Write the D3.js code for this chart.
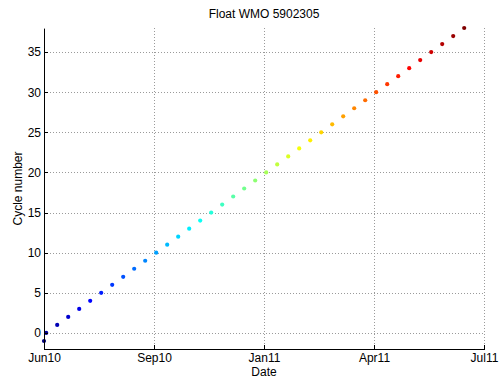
<!DOCTYPE html>
<meta charset="utf-8">
<style>
	body { margin: 0; background: #fff; }
	svg { display: block; font-family: "Liberation Sans", Arial, sans-serif; }
	.grid line { stroke: #9a9a9a; stroke-width: 1px; stroke-dasharray: 1,2; shape-rendering: crispEdges; }
	.axis path, .axis line { stroke: #000; shape-rendering: crispEdges; }
	.axis text { font-size: 12px; fill: #000; }
</style>
<body>
<script src="https://d3js.org/d3.v7.min.js"></script>
<script>

// Cycle number and date of each profile
var cycles = [-1, 0, 1, 2, 3, 4, 5, 6, 7, 8, 9, 10, 11, 12, 13, 14, 15, 16, 17, 18, 19,
	20, 21, 22, 23, 24, 25, 26, 27, 28, 29, 30, 31, 32, 33, 34, 35, 36, 37, 38];
var dates = ["2010-06-15", "2010-06-17", "2010-06-27", "2010-07-07", "2010-07-17", "2010-07-27",
	"2010-08-06", "2010-08-16", "2010-08-26", "2010-09-05", "2010-09-15", "2010-09-25",
	"2010-10-05", "2010-10-15", "2010-10-25", "2010-11-04", "2010-11-14", "2010-11-24",
	"2010-12-04", "2010-12-14", "2010-12-24", "2011-01-03", "2011-01-13", "2011-01-23",
	"2011-02-02", "2011-02-12", "2011-02-22", "2011-03-04", "2011-03-14", "2011-03-24",
	"2011-04-03", "2011-04-13", "2011-04-23", "2011-05-03", "2011-05-13", "2011-05-23",
	"2011-06-02", "2011-06-12", "2011-06-22", "2011-07-02"];

// x ticks are evenly spaced (100 days), labelled month/year
var xTicks = ["2010-06-15", "2010-09-23", "2011-01-01", "2011-04-11", "2011-07-20"];
var yTicks = [0, 5, 10, 15, 20, 25, 30, 35];

var width = 499, height = 381;
var margin = {top: 28, right: 15, bottom: 32, left: 44};

var parse = d3.timeParse("%Y-%m-%d");

var svg = d3.select("body").append("svg")
	.attr("width", width)
	.attr("height", height);

var x = d3.scaleTime()
	.domain([parse(xTicks[0]), parse(xTicks[xTicks.length - 1])])
	.range([margin.left, width - margin.right]);

var y = d3.scaleLinear()
	.domain([-2, 38])
	.range([height - margin.bottom, margin.top]);

// MATLAB jet colormap
function jet(t) {
	function c(v) { return Math.max(0, Math.min(1, v)); }
	var r = c(1.5 - Math.abs(4 * t - 3)),
		g = c(1.5 - Math.abs(4 * t - 2)),
		b = c(1.5 - Math.abs(4 * t - 1));
	return d3.rgb(r * 255, g * 255, b * 255);
}
var color = d3.scaleLinear().domain(d3.extent(cycles)).range([0, 1]);

// grid
var grid = svg.append("g").attr("class", "grid");
grid.selectAll(".gx")
	.data(xTicks)
	.enter().append("line")
	.attr("x1", function(d) { return Math.round(x(parse(d))) + 0.5; })
	.attr("x2", function(d) { return Math.round(x(parse(d))) + 0.5; })
	.attr("y1", y.range()[1])
	.attr("y2", y.range()[0]);
grid.selectAll(".gy")
	.data(yTicks)
	.enter().append("line")
	.attr("x1", x.range()[0])
	.attr("x2", x.range()[1])
	.attr("y1", function(d) { return Math.round(y(d)) + 0.5; })
	.attr("y2", function(d) { return Math.round(y(d)) + 0.5; });

// points
svg.append("g")
	.selectAll("circle")
	.data(cycles)
	.enter().append("circle")
	.attr("cx", function(d, i) { return x(parse(dates[i])); })
	.attr("cy", function(d) { return y(d); })
	.attr("r", 2.1)
	.attr("fill", function(d) { return jet(color(d)); });

// axes (ticks pointing inward, MATLAB style)
var fmt = d3.timeFormat("%b%y");
var xAxis = d3.axisBottom(x)
	.tickValues(xTicks.map(parse))
	.tickFormat(fmt)
	.tickSizeInner(-4)
	.tickSizeOuter(0)
	.tickPadding(4);
svg.append("g")
	.attr("class", "axis")
	.attr("transform", "translate(0," + (height - margin.bottom) + ")")
	.call(xAxis);

var yAxis = d3.axisLeft(y)
	.tickValues(yTicks)
	.tickSizeInner(-4)
	.tickSizeOuter(0)
	.tickPadding(3);
svg.append("g")
	.attr("class", "axis")
	.attr("transform", "translate(" + margin.left + ",0)")
	.call(yAxis);

// labels
svg.append("text")
	.attr("x", (x.range()[0] + x.range()[1]) / 2)
	.attr("y", 18)
	.attr("text-anchor", "middle")
	.style("font-size", "12px")
	.text("Float WMO 5902305");

svg.append("text")
	.attr("x", (x.range()[0] + x.range()[1]) / 2)
	.attr("y", 376)
	.attr("text-anchor", "middle")
	.style("font-size", "12px")
	.text("Date");

svg.append("text")
	.attr("transform", "translate(22," + ((y.range()[0] + y.range()[1]) / 2) + ") rotate(-90)")
	.attr("text-anchor", "middle")
	.style("font-size", "12px")
	.text("Cycle number");

</script>
</body>
</html>
